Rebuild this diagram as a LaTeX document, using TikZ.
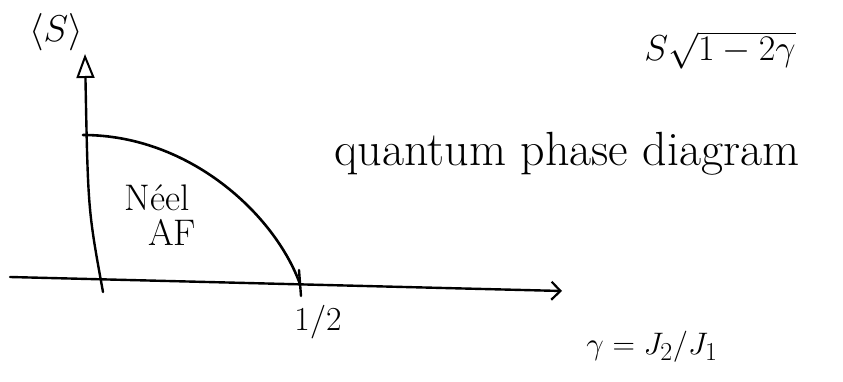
\documentclass[tikz,border=0pt]{standalone}
\usepackage{amsmath,amssymb}
\usepackage{graphicx}
\usepackage{tikz}
\usetikzlibrary{arrows.meta,positioning,calc}
\tikzset{axis/.style={line width=2.4pt, line cap=round}, yarrow/.style={-{Triangle[open, length=24pt, width=18pt, line width=2pt]}}, xarrow/.style={-{Straight Barb[length=9pt, width=18pt, line width=2.2pt]}}, border/.style={line width=2.6pt, line cap=round}, hand/.style={inner sep=1pt, text=black}}

\begin{document}
\begin{tikzpicture}[x=1pt, y=-1pt, every node/.style={hand}]
\useasboundingbox (0,0) rectangle (843,382);
\coordinate (yfoot) at (103,292);
\coordinate (ytip) at (85,54);
\coordinate (xstart) at (10,277);
\coordinate (xtip) at (562,291);
\coordinate (half) at (300,284);
\coordinate (top) at (83,135);
\coordinate (tickup) at (299,270);
\coordinate (tickdn) at (301,296);
\node[font=\Huge] (ms) at (56,32) {\scalebox{1.5}{$\langle S\rangle$}};
\node[font=\Huge] (classic) at (720,50) {\scalebox{1.45}{$S\sqrt{1-2\gamma}$}};
\node[font=\fontsize{48}{54}\selectfont] (title) at (567,154) {quantum phase diagram};
\node[font=\fontsize{37}{40}\selectfont] (neel) at (157,198) {Néel};
\node[font=\fontsize{37}{40}\selectfont, below=6pt of neel, xshift=15pt] (af) {AF};
\node[font=\Huge] (halflbl) at (318,322) {\scalebox{1.35}{$1/2$}};
\node[font=\Huge] (ratio) at (652,347) {\scalebox{1.25}{$\gamma=J_2/J_1$}};
\draw[axis, yarrow] (yfoot) .. controls (88,210) .. (ytip);
\draw[axis, xarrow] (xstart) -- (xtip);
\draw[axis] (tickup) -- (tickdn);
\draw[border] (top) .. controls (190,135) and (275,215) .. (half);
\end{tikzpicture}
\end{document}
